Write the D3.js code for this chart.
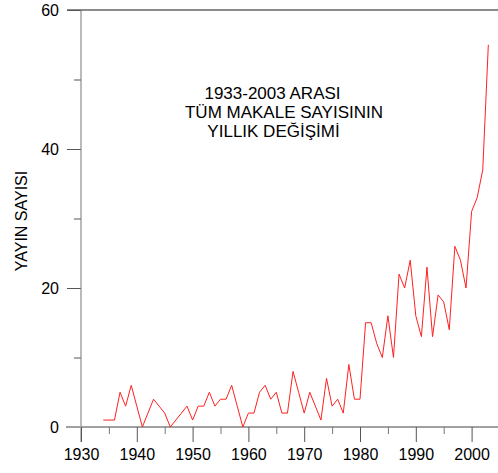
<!DOCTYPE html>
<html><head><meta charset="utf-8">
<script src="https://cdn.jsdelivr.net/npm/d3@7"></script>
<style>body{margin:0;background:#fff}svg{display:block;font-family:Arial,"Liberation Sans",sans-serif}</style>
</head><body>
<script>
const years = [1934,1935,1936,1937,1938,1939,1940,1941,1942,1943,1944,1945,1946,1947,1948,1949,1950,1951,1952,1953,1954,1955,1956,1957,1958,1959,1960,1961,1962,1963,1964,1965,1966,1967,1968,1969,1970,1971,1972,1973,1974,1975,1976,1977,1978,1979,1980,1981,1982,1983,1984,1985,1986,1987,1988,1989,1990,1991,1992,1993,1994,1995,1996,1997,1998,1999,2000,2001,2002,2003];
const counts = [1,1,1,5,3,6,3,0,2,4,3,2,0,1,2,3,1,3,3,5,3,4,4,6,3,0,2,2,5,6,4,5,2,2,8,5,2,5,3,1,7,3,4,2,9,4,4,15,15,12,10,16,10,22,20,24,16,13,23,13,19,18,14,26,24,20,31,33,37,55];
const xTickLabels = [1930,1940,1950,1960,1970,1980,1990,2000];
const yTickLabels = [0,20,40,60];
const titleLines = ["1933-2003 ARASI","TÜM MAKALE SAYISININ","YILLIK DEĞİŞİMİ"];
const yTitle = "YAYIN SAYISI";

const W=498,H=473;
const svg=d3.select("body").append("svg").attr("width",W).attr("height",H);
const x=d3.scaleLinear().domain([1930,2005]).range([81,499.5]);
const y=d3.scaleLinear().domain([0,60]).range([427,10]);

// top border
svg.append("line").attr("x1",67).attr("x2",W).attr("y1",10).attr("y2",10).attr("stroke","#666").attr("stroke-width",1.3);

// y axis
const yAxis=d3.axisLeft(y).tickValues(yTickLabels).tickSize(14).tickPadding(8).tickFormat(d3.format("d"));
const gy=svg.append("g").attr("transform","translate(81,0)").call(yAxis);
gy.select(".domain").remove();
gy.selectAll(".tick line").attr("stroke","#555");
gy.selectAll(".tick text").attr("font-size",16).attr("fill","#000").attr("font-family","Arial,'Liberation Sans',sans-serif");
const gyMinor=svg.append("g").attr("transform","translate(81,0)").call(d3.axisLeft(y).tickValues([10,30,50]).tickSize(7).tickFormat(""));
gyMinor.select(".domain").remove();
gyMinor.selectAll(".tick line").attr("stroke","#555");
svg.append("line").attr("x1",81).attr("x2",81).attr("y1",10).attr("y2",442).attr("stroke","#777");

// x axis
svg.append("line").attr("x1",66).attr("x2",W).attr("y1",427).attr("y2",427).attr("stroke","#a0a0a0").attr("stroke-width",2);
const gx=svg.append("g").attr("transform","translate(0,427)").call(d3.axisBottom(x).tickValues(xTickLabels).tickSize(15).tickPadding(7).tickFormat(d3.format("d")));
gx.select(".domain").remove();
gx.selectAll(".tick line").attr("stroke","#555");
gx.selectAll(".tick text").attr("font-size",16).attr("fill","#000").attr("font-family","Arial,'Liberation Sans',sans-serif");
const gxMinor=svg.append("g").attr("transform","translate(0,427)").call(d3.axisBottom(x).tickValues(xTickLabels.map(d=>d+5)).tickSize(7).tickFormat(""));
gxMinor.select(".domain").remove();
gxMinor.selectAll(".tick line").attr("stroke","#777");

// line
const data=years.map((yr,i)=>({yr,v:counts[i]}));
svg.append("path").datum(data).attr("fill","none").attr("stroke","#ff2020").attr("stroke-width",1)
  .attr("d",d3.line().x(d=>x(d.yr)).y(d=>y(d.v)));

// y title
svg.append("text").attr("transform","translate(27,221) rotate(-90)").attr("text-anchor","middle")
  .attr("font-size",16).attr("fill","#000").text(yTitle);

// chart title
const tx=[272.5,284,273.5];
const ty=[99,118,137];
titleLines.forEach((t,i)=>{
  svg.append("text").attr("x",tx[i]).attr("y",ty[i]).attr("text-anchor","middle").attr("font-size",17).attr("fill","#000").text(t);
});
</script>
</body></html>
